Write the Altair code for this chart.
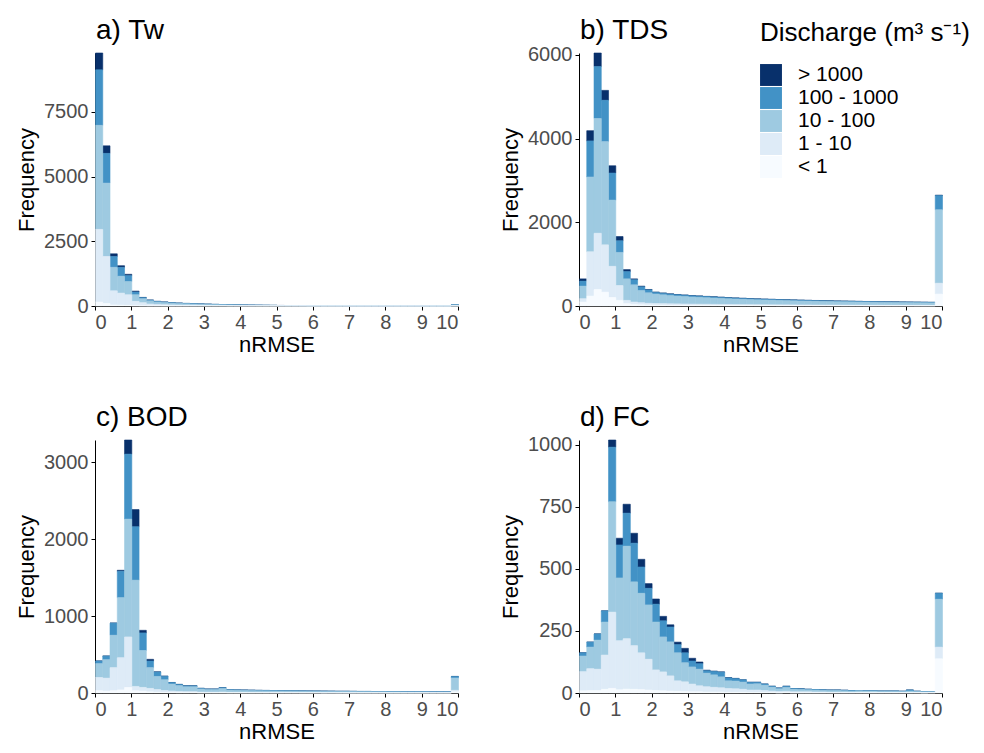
import altair as alt
import pandas as pd

CLASSES = ["> 1000", "100 - 1000", "10 - 100", "1 - 10", "< 1"]
COLORS = ["#08306b", "#4292c6", "#9ecae1", "#deebf7", "#f7fbff"]
PANELS = ["a) Tw", "b) TDS", "c) BOD", "d) FC"]
X_TICKS = [0, 1, 2, 3, 4, 5, 6, 7, 8, 9, 10]
Y_TICKS_A = [0, 2500, 5000, 7500]
Y_TICKS_B = [0, 2000, 4000, 6000]
Y_TICKS_C = [0, 1000, 2000, 3000]
Y_TICKS_D = [0, 250, 500, 750, 1000]
BIN_WIDTH = 0.2

# ---- a) Tw : counts per 0.2-wide nRMSE bin (last bin holds values >= 10)
TW_GT1000 = [651, 293, 102, 63, 51, 38, 10, 5, 3, 2, 2, 1, 1, 1, 1, 1, 0, 0, 0, 0,
             0, 0, 0, 0, 0, 0, 0, 0, 0, 0, 0, 0, 0, 0, 0, 0, 0, 0, 0, 0,
             0, 0, 0, 0, 0, 0, 0, 0, 0, 0]
TW_100_1000 = [2143, 1148, 421, 345, 230, 102, 41, 25, 20, 18, 15, 13, 11, 10, 9, 8, 7, 6, 5, 5,
               4, 4, 3, 3, 3, 2, 2, 2, 2, 1, 1, 1, 1, 1, 1, 1, 1, 1, 1, 1,
               1, 1, 0, 0, 0, 0, 0, 0, 0, 8]
TW_10_100 = [4018, 2832, 906, 650, 510, 255, 153, 123, 96, 83, 70, 62, 55, 50, 44, 39, 35, 31, 27, 23,
             21, 18, 16, 14, 13, 11, 10, 9, 8, 7, 7, 6, 6, 5, 5, 5, 4, 4, 4, 4,
             4, 3, 3, 3, 3, 3, 3, 3, 3, 35]
TW_1_10 = [2810, 1814, 547, 468, 409, 167, 120, 72, 55, 46, 38, 32, 29, 26, 23, 20, 18, 16, 14, 13,
           11, 10, 9, 8, 7, 6, 5, 5, 4, 4, 4, 3, 3, 3, 3, 2, 2, 2, 2, 2,
           2, 2, 2, 2, 2, 2, 1, 1, 1, 5]
TW_LT1 = [150, 100, 40, 30, 25, 12, 8, 5, 5, 4, 3, 3, 3, 2, 2, 2, 2, 2, 1, 1,
          1, 1, 1, 1, 1, 1, 1, 1, 1, 0, 0, 0, 0, 0, 0, 0, 0, 0, 0, 0,
          0, 0, 0, 0, 0, 0, 0, 0, 0, 2]

# ---- b) TDS
TDS_GT1000 = [55, 245, 324, 237, 174, 103, 48, 20, 15, 10,
              7, 6, 6, 5, 5, 5, 5, 4, 4, 4, 4, 4, 4, 4, 3, 3, 3, 3, 3, 3,
              3, 3, 3, 3, 2, 2, 2, 2, 2, 2, 2, 2, 2, 2, 2, 2, 2, 2, 2, 10]
TDS_100_1000 = [119, 862, 1241, 988, 648, 276, 174, 122, 90, 70,
                40, 37, 35, 33, 31, 30, 29, 28, 26, 25, 24, 23, 22, 21, 20, 20, 19, 19, 18, 17,
                17, 16, 16, 15, 15, 14, 14, 14, 13, 13, 13, 12, 12, 12, 12, 11, 11, 11, 11, 339]
TDS_10_100 = [300, 1787, 2743, 2467, 1581, 791, 514, 411, 290, 250,
              225, 211, 197, 187, 178, 170, 163, 156, 150, 143, 136, 130, 126, 121, 116, 112, 109, 105, 102, 99,
              95, 92, 90, 87, 84, 82, 80, 78, 76, 74, 72, 70, 69, 67, 66, 65, 64, 62, 61, 1755]
TDS_1_10 = [79, 1059, 1344, 1130, 743, 356, 79, 60, 50, 40,
            40, 37, 35, 33, 32, 30, 29, 28, 27, 25, 24, 23, 22, 21, 20, 19, 18, 18, 17, 16,
            15, 15, 14, 14, 14, 13, 13, 12, 12, 12, 11, 11, 11, 11, 10, 10, 10, 10, 9, 260]
TDS_LT1 = [95, 237, 395, 332, 206, 134, 55, 35, 29, 25,
           20, 19, 17, 17, 16, 15, 14, 14, 13, 13, 13, 12, 11, 11, 11, 11, 11, 10, 10, 10,
           10, 10, 9, 9, 9, 9, 8, 8, 8, 7, 7, 7, 6, 6, 6, 6, 5, 5, 5, 285]

# ---- c) BOD
BOD_GT1000 = [0, 0, 0, 13, 184, 223, 34, 22, 3, 2, 1, 1, 1, 1, 0, 0, 0, 0, 0, 0,
              0, 0, 0, 0, 0, 0, 0, 0, 0, 0, 0, 0, 0, 0, 0, 0, 0, 0, 0, 0,
              0, 0, 0, 0, 0, 0, 0, 0, 0, 0]
BOD_100_1000 = [34, 47, 158, 343, 845, 695, 228, 86, 57, 45, 20, 15, 12, 12, 8, 7, 7, 10, 6, 5,
                5, 5, 5, 5, 5, 4, 4, 4, 4, 4, 4, 4, 3, 3, 3, 3, 3, 3, 3, 3,
                3, 3, 3, 3, 2, 2, 2, 2, 2, 20]
BOD_10_100 = [180, 240, 421, 781, 1532, 1381, 480, 270, 170, 140, 90, 75, 63, 63, 40, 34, 34, 46, 29, 27,
              25, 24, 22, 22, 21, 20, 19, 18, 18, 17, 16, 16, 15, 15, 15, 14, 13, 13, 12, 12,
              12, 12, 11, 11, 11, 11, 10, 10, 10, 160]
BOD_1_10 = [172, 168, 300, 419, 656, 56, 48, 45, 35, 24, 20, 16, 13, 13, 9, 7, 7, 10, 6, 6,
            6, 5, 5, 4, 4, 4, 4, 4, 3, 3, 3, 3, 4, 3, 3, 3, 3, 3, 3, 3,
            2, 2, 2, 2, 2, 2, 2, 2, 2, 20]
BOD_LT1 = [30, 25, 30, 40, 73, 30, 25, 15, 10, 8, 6, 5, 5, 5, 3, 3, 3, 3, 2, 2,
           2, 2, 2, 2, 2, 2, 2, 2, 2, 2, 2, 1, 1, 1, 1, 1, 1, 1, 1, 1,
           1, 1, 1, 1, 1, 1, 1, 1, 1, 15]

# ---- d) FC
FC_GT1000 = [0, 0, 0, 0, 29, 27, 36, 40, 31, 19, 21, 18, 9, 10, 18, 11, 7, 2, 1, 1,
             1, 1, 0, 0, 0, 0, 0, 0, 0, 0, 0, 0, 0, 0, 0, 0, 0, 0, 0, 0,
             0, 0, 0, 0, 0, 0, 0, 0, 0, 0]
FC_100_1000 = [13, 20, 25, 45, 220, 133, 133, 156, 106, 67, 72, 65, 60, 33, 40, 24, 22, 10, 14, 19,
               12, 10, 9, 7, 6, 5, 4, 3, 5, 3, 3, 2, 2, 2, 2, 2, 2, 2, 1, 1,
               1, 1, 1, 1, 1, 4, 1, 1, 1, 24]
FC_10_100 = [63, 87, 117, 133, 445, 253, 373, 257, 240, 219, 193, 141, 137, 113, 77, 69, 67, 55, 50, 44,
             31, 31, 29, 24, 25, 21, 15, 11, 15, 10, 9, 8, 8, 7, 7, 7, 6, 6, 6, 5,
             5, 5, 5, 5, 4, 6, 4, 4, 3, 193]
FC_1_10 = [77, 88, 86, 138, 307, 198, 203, 176, 148, 124, 83, 76, 61, 42, 39, 31, 24, 21, 19, 17,
           15, 14, 12, 10, 10, 8, 6, 5, 5, 4, 4, 4, 3, 3, 2, 2, 2, 1, 2, 2,
           2, 1, 1, 1, 1, 1, 1, 0, 1, 47]
FC_LT1 = [9, 10, 10, 15, 19, 13, 16, 15, 14, 12, 10, 9, 8, 7, 6, 5, 5, 4, 4, 4,
          3, 3, 3, 2, 2, 2, 2, 1, 2, 1, 1, 1, 1, 1, 1, 1, 1, 1, 1, 1,
          1, 1, 1, 1, 1, 1, 1, 1, 1, 138]

SERIES = {
    "a) Tw": [TW_GT1000, TW_100_1000, TW_10_100, TW_1_10, TW_LT1],
    "b) TDS": [TDS_GT1000, TDS_100_1000, TDS_10_100, TDS_1_10, TDS_LT1],
    "c) BOD": [BOD_GT1000, BOD_100_1000, BOD_10_100, BOD_1_10, BOD_LT1],
    "d) FC": [FC_GT1000, FC_100_1000, FC_10_100, FC_1_10, FC_LT1],
}
YTICKS = {"a) Tw": Y_TICKS_A, "b) TDS": Y_TICKS_B, "c) BOD": Y_TICKS_C, "d) FC": Y_TICKS_D}

FONT = "Liberation Sans"
PW, PH = 363, 253


def panel_df(name):
    rows = []
    for ci, (cls, arr) in enumerate(zip(CLASSES, SERIES[name])):
        for i, v in enumerate(arr):
            rows.append({"cls": cls, "ord": len(CLASSES) - 1 - ci,
                         "x0": round(i * BIN_WIDTH, 1), "x1": round((i + 1) * BIN_WIDTH, 1), "n": v})
    return pd.DataFrame(rows)


def panel(name, show_legend=False):
    df = panel_df(name)
    ymax = float(df.groupby("x0")["n"].sum().max())
    cscale = alt.Scale(domain=CLASSES, range=COLORS)
    if show_legend:
        legend = alt.Legend(title="Discharge (m³ s⁻¹)", orient="none", legendX=181, legendY=-33,
                            titleLimit=400, labelLimit=300)
    else:
        legend = None
    bars = alt.Chart(df).mark_bar(strokeWidth=0.6, binSpacing=0).encode(
        x=alt.X("x0:Q", bin="binned", scale=alt.Scale(domain=[0, 10], nice=False),
                axis=alt.Axis(values=X_TICKS, title="nRMSE", format="d", labelPadding=2, titlePadding=2)),
        x2="x1:Q",
        y=alt.Y("sum(n):Q", stack="zero", scale=alt.Scale(domain=[0, ymax], nice=False),
                axis=alt.Axis(values=YTICKS[name], title="Frequency", format="d", labelPadding=3, titlePadding=5)),
        color=alt.Color("cls:N", scale=cscale, legend=legend),
        stroke=alt.Stroke("cls:N", scale=cscale, legend=None),
        order=alt.Order("ord:Q", sort="ascending"),
    )
    heading = alt.Chart(pd.DataFrame({"label": [name]})).mark_text(
        align="left", baseline="alphabetic", font=FONT, fontSize=28, color="black"
    ).encode(x=alt.value(1), y=alt.value(-14), text="label:N")
    return alt.layer(bars, heading).properties(width=PW, height=PH)


top = alt.hconcat(panel("a) Tw"), panel("b) TDS", True), spacing=40).resolve_scale(
    color="independent", stroke="independent")
bottom = alt.hconcat(panel("c) BOD"), panel("d) FC"), spacing=40).resolve_scale(
    color="independent", stroke="independent")
chart = alt.vconcat(top, bottom, spacing=49).resolve_scale(
    color="independent", stroke="independent").configure_axis(
    labelFont=FONT, labelFontSize=20, labelColor="#4d4d4d",
    titleFont=FONT, titleFontSize=22, titleFontWeight="normal", titleColor="black",
    domainColor="black", domainWidth=1, tickColor="black", tickSize=4, grid=False,
).configure_view(stroke=None).configure_legend(
    titleFont=FONT, titleFontSize=26, titleFontWeight="normal", titleColor="black", titlePadding=18,
    labelFont=FONT, labelFontSize=21, labelColor="black", labelOffset=16, padding=0,
    symbolType="square", symbolSize=480, symbolStrokeWidth=0, rowPadding=1,
).properties(padding={"left": 7, "top": 9, "right": 0, "bottom": 0})

chart.save("out.html", embed_options={"renderer": "svg", "actions": False})
